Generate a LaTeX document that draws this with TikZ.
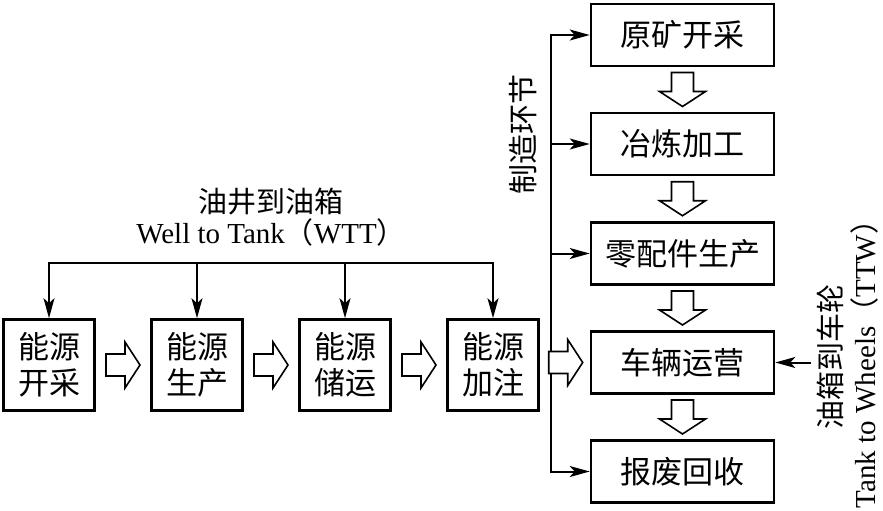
\documentclass[tikz,border=0pt]{standalone}
\usepackage{fontspec}
\setmainfont{Liberation Serif}
\newfontfamily\cjk{Noto Sans CJK SC}
\usetikzlibrary{arrows.meta,calc}
\tikzset{
  box/.style={draw,line width=2.6pt,inner sep=0pt,align=center,font=\cjk\fontsize{31}{36}\selectfont},
  sqbox/.style={box,minimum width=91pt,minimum height=91pt},
  widebox/.style={box,minimum width=183pt,minimum height=62pt},
  link/.style={line width=2pt,line cap=rect},
  feed/.style={link,-{Stealth[length=20pt,width=11pt,inset=5pt]}},
  hollow/.style={line width=1.6pt,line join=miter,fill=white},
  stagetext/.style={align=center,font=\fontsize{29}{31}\selectfont}
}
\newcommand{\hollowarrow}[2]{%
  \draw[hollow,shift={(#1)},rotate=#2] (-17,-11) -- (2,-11) -- (2,-23) -- (17,0) -- (2,23) -- (2,11) -- (-17,11) -- cycle;}

\begin{document}
\begin{tikzpicture}[x=1pt,y=-1pt]
\useasboundingbox (0,0) rectangle (883,511);

\node[sqbox] (b1) at (49,365) {能源\\开采};
\node[sqbox] (b2) at (197,365) {能源\\生产};
\node[sqbox] (b3) at (345,365) {能源\\储运};
\node[sqbox] (b4) at (493,365) {能源\\加注};

\node[widebox] (r1) at (682.5,35) {原矿开采};
\node[widebox] (r2) at (682.5,144) {冶炼加工};
\node[widebox] (r3) at (682.5,253.5) {零配件生产};
\node[widebox] (r4) at (682.5,362.5) {车辆运营};
\node[widebox] (r5) at (682.5,471.5) {报废回收};

\node[stagetext] (wtt) at (271,217) {{\cjk 油井到油箱}\\Well to Tank{\cjk （}WTT{\cjk ）}};
\node[rotate=90,font=\cjk\fontsize{30}{31}\selectfont] (mfg) at (523,134) {制造环节};
\node[stagetext,rotate=90,font=\fontsize{29}{34}\selectfont] (ttw) at (848,357) {{\cjk 油箱到车轮}\\Tank to Wheels{\cjk （}TTW{\cjk ）}};

\coordinate (bar) at (0,263);
\draw[link] (b1.north |- bar) -- (b4.north |- bar);
\foreach \b in {b1,b2,b3,b4}
  \draw[feed] (\b.north |- bar) -- (\b.north);

\coordinate (trunk) at (551,0);
\draw[link] (trunk |- r1.west) -- (trunk |- r5.west);
\foreach \r in {r1,r2,r3,r5}
  \draw[feed] (trunk |- \r.west) -- (\r.west);

\coordinate (ttwin) at (810,362.5);
\draw[feed] (ttwin) -- (r4.east);

\hollowarrow{$(b1.east)!.5!(b2.west)$}{0}
\hollowarrow{$(b2.east)!.5!(b3.west)$}{0}
\hollowarrow{$(b3.east)!.5!(b4.west)$}{0}
\hollowarrow{$(r4.west)+(-24,0)$}{0}
\hollowarrow{$(r1.south)!.5!(r2.north)$}{-90}
\hollowarrow{$(r2.south)!.5!(r3.north)$}{-90}
\hollowarrow{$(r3.south)!.5!(r4.north)$}{-90}
\hollowarrow{$(r4.south)!.5!(r5.north)$}{-90}
\end{tikzpicture}
\end{document}
